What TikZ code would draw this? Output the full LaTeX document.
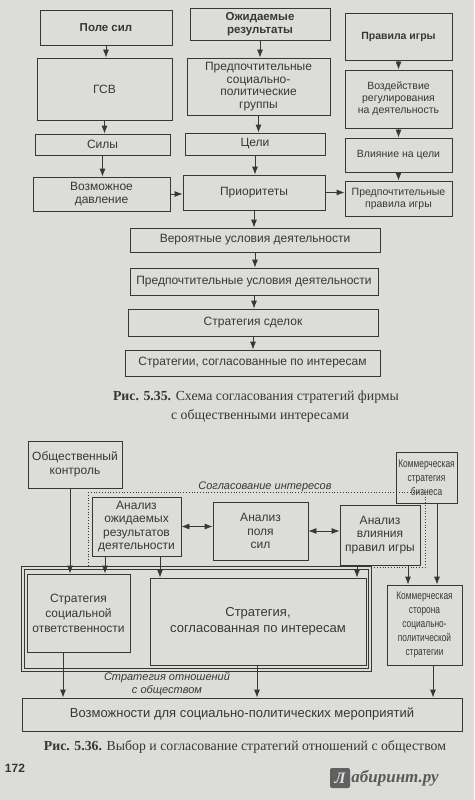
\documentclass[tikz,border=0pt]{standalone}
\usepackage{fontspec}
\setmainfont{Liberation Serif}
\newfontfamily\dsans{Liberation Sans}
\newfontfamily\dsansc[FakeStretch=0.76]{Liberation Sans}
\usetikzlibrary{arrows.meta}
\definecolor{paper}{RGB}{220,220,216}
\definecolor{ink}{RGB}{55,55,55}
\newcommand\bodyf{\dsans\fontsize{12}{13.5}\selectfont}
\newcommand\titlef{\dsans\bfseries\fontsize{11.5}{13}\selectfont}
\newcommand\smallf{\dsans\fontsize{10.5}{12}\selectfont}
\newcommand\tinyf{\dsansc\fontsize{11}{14}\selectfont}
\newcommand\bigf{\dsans\fontsize{13}{16}\selectfont}
\newcommand\capf{\fontsize{13.8}{16}\selectfont}
\newcommand\labf{\dsans\itshape\fontsize{11}{13}\selectfont}
\newcommand\mybox[7][]{\node[box,#1,minimum width={#5-#3},minimum height={#6-#4}] (#2) at ({(#3+#5)/2},{(#4+#6)/2}) {#7};}
\begin{document}
\begin{tikzpicture}[x=1pt,y=-1pt,
  box/.style={draw=ink, line width=0.8pt, align=center, inner sep=1pt, font=\bodyf, text=ink},
  arr/.style={-{Latex[length=8pt,width=6pt]}, draw=ink, line width=0.8pt},
  darr/.style={{Latex[length=8pt,width=6pt]}-{Latex[length=8pt,width=6pt]}, draw=ink, line width=0.8pt},
  capt/.style={font=\capf, text=ink, inner sep=0pt},
  lab/.style={font=\labf, text=ink, inner sep=0pt, align=center}]
\fill[paper] (0,0) rectangle (474,800);
\useasboundingbox (0,0) rectangle (474,800);
% ---------- Fig 5.35 ----------
\mybox[font=\titlef]{ps}{40}{10}{172}{45}{Поле сил}
\mybox{gsv}{37}{58}{172}{120}{ГСВ}
\mybox{sily}{35}{134}{170}{155}{Силы}
\mybox{davl}{33}{177}{170}{211}{Возможное\\давление}
\mybox[font=\titlef]{ozh}{190}{8}{330}{40}{Ожидаемые\\результаты}
\mybox[font=\dsans\fontsize{12}{12.5}\selectfont]{grp}{187}{58}{330}{115}{Предпочтительные\\социально-\\политические\\группы}
\mybox{celi}{185}{133}{325}{155}{Цели}
\mybox{prio}{183}{175}{325}{210}{Приоритеты}
\mybox[font=\dsans\bfseries\fontsize{10.5}{12}\selectfont]{pi}{345}{13}{452}{60}{Правила игры}
\mybox[font=\smallf]{vozd}{345}{70}{452}{128}{Воздействие\\регулирования\\на деятельность}
\mybox[font=\smallf]{vlc}{345}{138}{452}{172}{Влияние на цели}
\mybox[font=\smallf]{ppi}{345}{181}{452}{216}{Предпочтительные\\правила игры}
\mybox{ver}{130}{228}{380}{252}{Вероятные условия деятельности}
\mybox{puc}{130}{268}{378}{295}{Предпочтительные условия деятельности}
\mybox{sd}{128}{309}{378}{336}{Стратегия сделок}
\mybox{str}{125}{350}{380}{376}{Стратегии, согласованные по интересам}
\draw[arr] (ps.south) -- (ps.south |- gsv.north);
\draw[arr] (gsv.south) -- (gsv.south |- sily.north);
\draw[arr] (sily.south) -- (sily.south |- davl.north);
\draw[arr] (ozh.south) -- (ozh.south |- grp.north);
\draw[arr] (grp.south) -- (grp.south |- celi.north);
\draw[arr] (celi.south) -- (celi.south |- prio.north);
\draw[arr] (pi.south) -- (pi.south |- vozd.north);
\draw[arr] (vozd.south) -- (vozd.south |- vlc.north);
\draw[arr] (vlc.south) -- (vlc.south |- ppi.north);
\draw[arr] (davl.east) -- (davl.east -| prio.west);
\draw[arr] (prio.east) -- (prio.east -| ppi.west);
\draw[arr] (prio.south) -- (prio.south |- ver.north);
\draw[arr] (ver.south) -- (ver.south |- puc.north);
\draw[arr] (puc.south) -- (puc.south |- sd.north);
\draw[arr] (sd.south) -- (sd.south |- str.north);
\node[capt] (c1) at (256,397) {\textbf{Рис. 5.35.} Схема согласования стратегий фирмы};
\node[capt] (c1b) at (260,416) {с общественными интересами};
% ---------- Fig 5.36 ----------
\mybox{ok}{28}{441}{122}{488}{Общественный\\контроль}
\mybox[font=\tinyf]{ksb}{396}{452}{457}{503}{Коммерческая\\стратегия\\бизнеса}
\node[lab] (soglab) at (265,487) {Согласование интересов};
\draw[ink, dotted, line width=0.8pt] (88,492) rectangle (425,567);
\mybox{aor}{92}{497}{181}{556}{Анализ\\ожидаемых\\результатов\\деятельности}
\mybox{aps}{213}{502}{308}{560}{Анализ\\поля\\сил}
\mybox{avp}{340}{505}{420}{565}{Анализ\\влияния\\правил игры}
\draw[darr] (aor.east) -- (aor.east -| aps.west);
\draw[darr] (aps.east) -- (aps.east -| avp.west);
\draw[ink, line width=0.6pt, double=paper, double distance=2pt] (23,568) rectangle (370,670);
\mybox[font=\dsans\fontsize{12}{15}\selectfont]{sso}{27}{574}{130}{652}{Стратегия\\социальной\\ответственности}
\mybox[font=\bigf]{ssi}{150}{578}{366}{665}{Стратегия,\\согласованная по интересам}
\mybox[font=\tinyf]{kss}{387}{585}{462}{665}{Коммерческая\\сторона\\социально-\\политической\\стратегии}
\node[lab] (solab) at (167,684) {Стратегия отношений\\с обществом};
\mybox[font=\dsans\fontsize{13}{15}\selectfont]{voz}{22}{698}{462}{731}{Возможности для социально-политических мероприятий}
\coordinate (a70) at (70,0);
\coordinate (a105) at (105,0);
\coordinate (a160) at (160,0);
\coordinate (a357) at (357,0);
\coordinate (a408) at (408,0);
\coordinate (a437) at (437,0);
\coordinate (a63) at (63,0);
\coordinate (a257) at (257,0);
\coordinate (a433) at (433,0);
\draw[arr] (ok.south -| a70) -- (a70 |- sso.north);
\draw[arr] (aor.south -| a105) -- (a105 |- sso.north);
\draw[arr] (aor.south -| a160) -- (a160 |- ssi.north);
\draw[arr] (avp.south -| a357) -- (a357 |- ssi.north);
\draw[arr] (avp.south -| a408) -- (a408 |- kss.north);
\draw[arr] (ksb.south -| a437) -- (a437 |- kss.north);
\draw[arr] (sso.south -| a63) -- (a63 |- voz.north);
\draw[arr] (ssi.south -| a257) -- (a257 |- voz.north);
\draw[arr] (kss.south -| a433) -- (a433 |- voz.north);
\node[capt] (c2) at (245,747) {\textbf{Рис. 5.36.} Выбор и согласование стратегий отношений с обществом};
\node[font=\dsans\bfseries\fontsize{12}{14}\selectfont, text=ink] (pg) at (15,768) {172};
\node[fill=gray!75!black, text=paper, font=\bfseries\itshape\fontsize{16}{18}\selectfont, minimum size=20pt, inner sep=0pt, rounded corners=2pt] (wml) at (340,778) {Л};
\node[right, text=gray!70!black, font=\bfseries\itshape\fontsize{17}{19}\selectfont, inner sep=1pt] (wm) at (wml.east) {абиринт.ру};
\end{tikzpicture}
\end{document}
